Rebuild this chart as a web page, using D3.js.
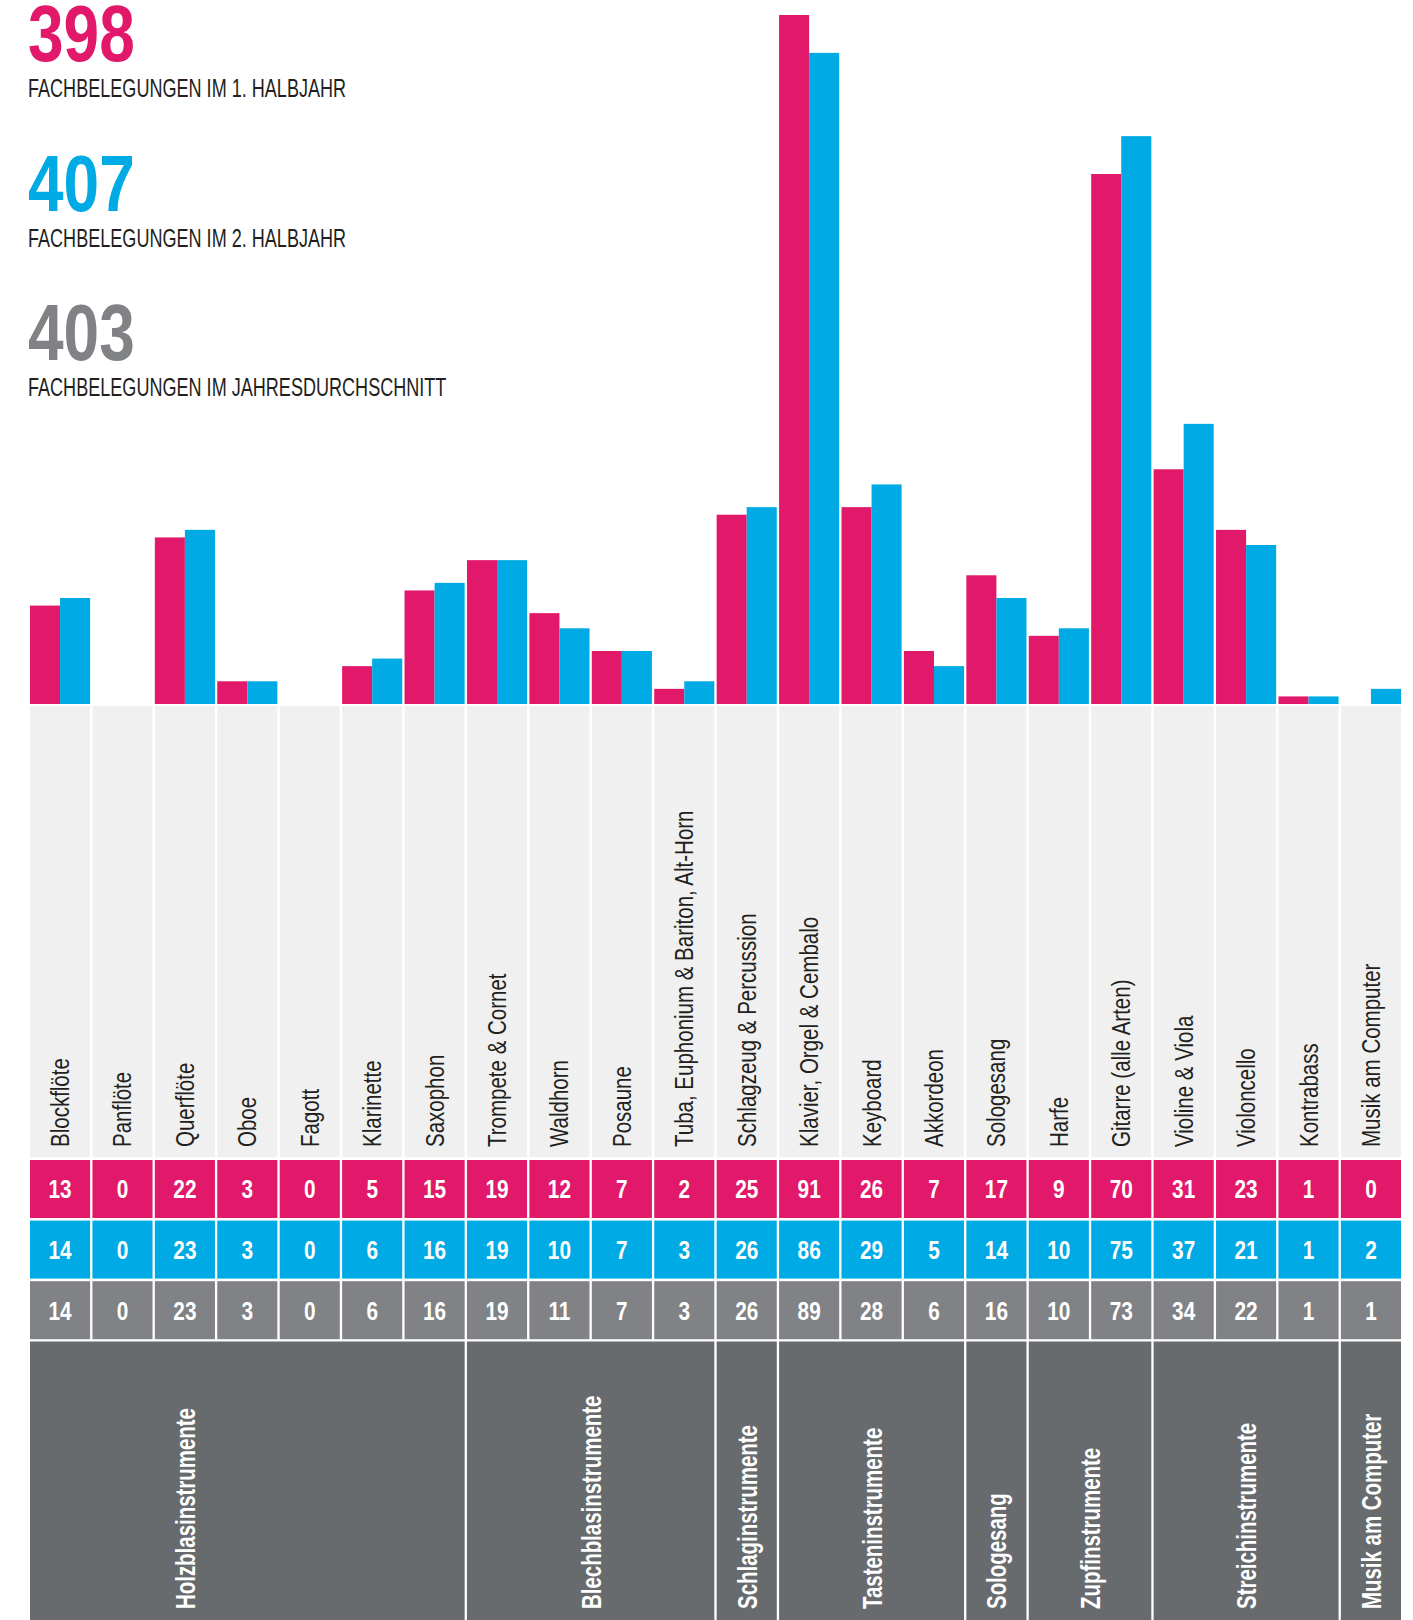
<!DOCTYPE html>
<html><head><meta charset="utf-8">
<script src="https://cdn.jsdelivr.net/npm/d3@7"></script>
<style>
html,body{margin:0;padding:0;background:#fff;}
svg{display:block;}
text{font-family:"Liberation Sans",Arial,sans-serif;}
</style></head><body>
<svg id="chart" width="1413" height="1620"></svg>
<script>
// ---------- data ----------
const categories = ["Blockflöte","Panflöte","Querflöte","Oboe","Fagott","Klarinette","Saxophon",
  "Trompete & Cornet","Waldhorn","Posaune","Tuba, Euphonium & Bariton, Alt-Horn",
  "Schlagzeug & Percussion","Klavier, Orgel & Cembalo","Keyboard","Akkordeon","Sologesang",
  "Harfe","Gitarre (alle Arten)","Violine & Viola","Violoncello","Kontrabass","Musik am Computer"];
const firstHalf   = [13,0,22,3,0,5,15,19,12,7,2,25,91,26,7,17,9,70,31,23,1,0];
const secondHalf  = [14,0,23,3,0,6,16,19,10,7,3,26,86,29,5,14,10,75,37,21,1,2];
const yearAverage = [14,0,23,3,0,6,16,19,11,7,3,26,89,28,6,16,10,73,34,22,1,1];
const groupNames = ["Holzblasinstrumente","Blechblasinstrumente","Schlaginstrumente","Tasteninstrumente",
  "Sologesang","Zupfinstrumente","Streichinstrumente","Musik am Computer"];
const groupSizes = [7,4,1,3,1,2,3,1];
const totals = [398, 407, 403];
const totalLabels = ["FACHBELEGUNGEN IM 1. HALBJAHR","FACHBELEGUNGEN IM 2. HALBJAHR","FACHBELEGUNGEN IM JAHRESDURCHSCHNITT"];

// ---------- styles ----------
const C = {h1:"#E2186A", h2:"#00AAE4", avg:"#808285", group:"#676B6E", labelBg:"#EFF0EF", text:"#231F20"};
const seriesColors = [C.h1, C.h2, C.avg];

const svg = d3.select("#chart");
const baseY = 704;
const x = d3.scaleBand().domain(categories).range([30, 1401]).paddingInner(0.037);
const y = d3.scaleLinear().domain([0, 91]).range([baseY, 15]);
const bw = x.bandwidth();

// ---------- header ----------
const head = svg.append("g");
totals.forEach((t, i) => {
  const top = i * 149.5;
  head.append("text")
    .attr("transform", `translate(28,${61 + top}) scale(0.8,1)`)
    .attr("font-size", 80).attr("font-weight", "bold")
    .attr("fill", seriesColors[i]).text(t);
  head.append("text")
    .attr("transform", `translate(28,${97 + top}) scale(0.695,1)`)
    .attr("font-size", 26).attr("fill", C.text).text(totalLabels[i]);
});

// ---------- bars ----------
const data = categories.map((c, i) => ({c, a: firstHalf[i], b: secondHalf[i], m: yearAverage[i]}));
const bars = svg.append("g");
bars.selectAll("rect.a").data(data).join("rect").attr("class","a")
  .attr("x", d => x(d.c)).attr("width", bw / 2)
  .attr("y", d => y(d.a)).attr("height", d => baseY - y(d.a)).attr("fill", C.h1);
bars.selectAll("rect.b").data(data).join("rect").attr("class","b")
  .attr("x", d => x(d.c) + bw / 2).attr("width", bw / 2)
  .attr("y", d => y(d.b)).attr("height", d => baseY - y(d.b)).attr("fill", C.h2);

// ---------- category label cells ----------
const lab = svg.append("g");
lab.selectAll("rect").data(data).join("rect")
  .attr("x", d => x(d.c)).attr("width", bw)
  .attr("y", 706).attr("height", 451.3).attr("fill", C.labelBg);
lab.selectAll("text").data(data).join("text")
  .attr("transform", d => `translate(${x(d.c) + bw / 2 + 9},1147) rotate(-90) scale(0.82,1)`)
  .attr("font-size", 25).attr("fill", C.text).text(d => d.c);

// ---------- value table ----------
const rows = [firstHalf, secondHalf, yearAverage];
rows.forEach((vals, r) => {
  const ry = 1160 + r * 60.6;
  const g = svg.append("g");
  g.selectAll("rect").data(categories).join("rect")
    .attr("x", c => x(c)).attr("width", bw)
    .attr("y", ry).attr("height", 58).attr("fill", seriesColors[r]);
  g.selectAll("text").data(categories).join("text")
    .attr("transform", (c) => `translate(${x(c) + bw / 2},${ry + 29}) scale(0.8,1)`)
    .attr("dy", "0.36em").attr("text-anchor", "middle")
    .attr("font-size", 26).attr("font-weight", "bold").attr("fill", "#fff")
    .text((c, i) => vals[i]);
});

// ---------- group row ----------
let start = 0;
const groups = groupNames.map((name, i) => {
  const g = {name, first: categories[start], last: categories[start + groupSizes[i] - 1],
             labelLast: categories[start + (i === 0 ? 4 : groupSizes[i] - 1)]};
  start += groupSizes[i];
  return g;
});
const grp = svg.append("g");
grp.selectAll("rect").data(groups).join("rect")
  .attr("x", d => x(d.first)).attr("width", d => x(d.last) + bw - x(d.first))
  .attr("y", 1341.5).attr("height", 1620 - 1341.5).attr("fill", C.group);
grp.selectAll("text").data(groups).join("text")
  .attr("transform", d => `translate(${(x(d.first) + x(d.labelLast) + bw) / 2 + 10},1609) rotate(-90) scale(0.73,1)`)
  .attr("font-size", 28).attr("font-weight", "bold").attr("fill", "#fff").text(d => d.name);
</script>
</body></html>
